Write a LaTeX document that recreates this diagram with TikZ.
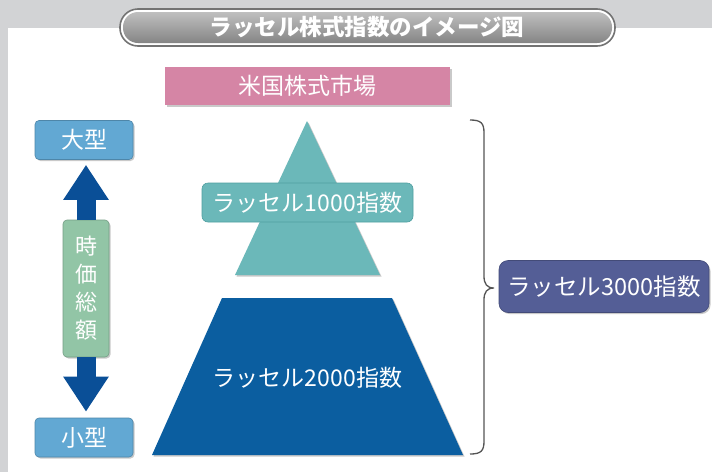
\documentclass[tikz,border=0pt]{standalone}
\usepackage{fontspec}
\setmainfont{Noto Sans CJK JP}
\usetikzlibrary{shadows,arrows.meta}
\definecolor{bggray}{HTML}{D2D3D5}
\definecolor{pinkc}{HTML}{D585A5}
\definecolor{tealc}{HTML}{6BB8B9}
\definecolor{tealdark}{HTML}{4F9FA0}
\definecolor{navyc}{HTML}{0B5EA0}
\definecolor{purplec}{HTML}{545E96}
\definecolor{lbluec}{HTML}{62A8D3}
\definecolor{greenc}{HTML}{92C5A6}
\definecolor{arrowc}{HTML}{0A4F97}
\definecolor{bracec}{HTML}{555555}
\tikzset{
  shad/.style={drop shadow={shadow xshift=1.5pt,shadow yshift=-1.5pt,opacity=0.35,fill=black!60}},
  lbl/.style={text=white,font=\fontsize{23}{26}\selectfont,inner sep=0pt},
  sizebox/.style={rounded corners=4pt,fill=lbluec,draw=lbluec!80!black,line width=0.6pt,shad,
    minimum width=98pt,minimum height=39pt,lbl},
  bigarrow/.style={line width=19pt,draw=arrowc,-{Triangle[width=43pt,length=35pt]}},
}
\begin{document}
\begin{tikzpicture}[x=1pt,y=-1pt]
\useasboundingbox (0,0) rectangle (712,472);
% background
\fill[bggray] (0,0) rectangle (712,472);
\fill[white] (8,28) rectangle (712,472);
% title pill
\draw[line width=1.6pt,draw=black!55,fill=white,rounded corners=18pt] (120,9) rectangle (615,46);
\shade[top color=black!25,bottom color=black!48,rounded corners=15pt] (123,12) rectangle (612,43);
\node[text=white,font=\bfseries\fontsize{22.5}{26}\selectfont] (title) at (367,27.5) {ラッセル株式指数のイメージ図};
% market box
\node[fill=pinkc,shad,minimum width=285pt,minimum height=38pt,lbl] (market) at (307.5,86) {米国株式市場};
% triangle
\coordinate (tA) at (307,121);
\coordinate (tL) at (235,275);
\coordinate (tR) at (380,275);
\fill[tealc,shad] (tA) -- (tR) -- (tL) -- cycle;
\node[rounded corners=6pt,fill=tealc,draw=tealdark,line width=0.6pt,minimum width=211pt,minimum height=39pt,lbl] (r1000) at (307.5,202.5) {ラッセル1000指数};
% trapezoid
\coordinate (zA) at (222,298);
\coordinate (zB) at (392,298);
\coordinate (zC) at (463,455);
\coordinate (zD) at (152,455);
\fill[navyc,shad] (zA) -- (zB) -- (zC) -- (zD) -- cycle;
\node[lbl] (r2000) at (307.5,378) {ラッセル2000指数};
% brace
\coordinate (bT) at (470,120);
\coordinate (bM) at (494,288);
\coordinate (bB) at (470,454);
\draw[bracec,line width=1.3pt] (bT) .. controls (481,120) and (484,123) .. (484,133) -- (484,276) .. controls (484,284) and (487,288) .. (bM) .. controls (487,288) and (484,292) .. (484,300) -- (484,441) .. controls (484,451) and (481,454) .. (bB);
% russell 3000
\node[rounded corners=9pt,fill=purplec,draw=purplec!80!black,line width=0.6pt,shad,minimum width=210pt,minimum height=52pt,lbl,font=\fontsize{23.5}{26}\selectfont] (r3000) at (604,286.5) {ラッセル3000指数};
% left scale
\node[sizebox] (big) at (84,140) {大型};
\node[sizebox] (small) at (84,437.5) {小型};
\node[rounded corners=4pt,fill=greenc,draw=greenc!80!black,line width=0.6pt,shad,minimum width=46pt,minimum height=137pt,text=white,inner sep=0pt,align=center,font=\fontsize{22}{28}\selectfont] (cap) at (86,288.5) {時\\価\\総\\額};
\draw[bigarrow,shorten >=5pt] (cap.north) -- (cap.north |- big.south);
\draw[bigarrow,shorten >=6pt] (cap.south) -- (cap.south |- small.north);
\end{tikzpicture}
\end{document}
